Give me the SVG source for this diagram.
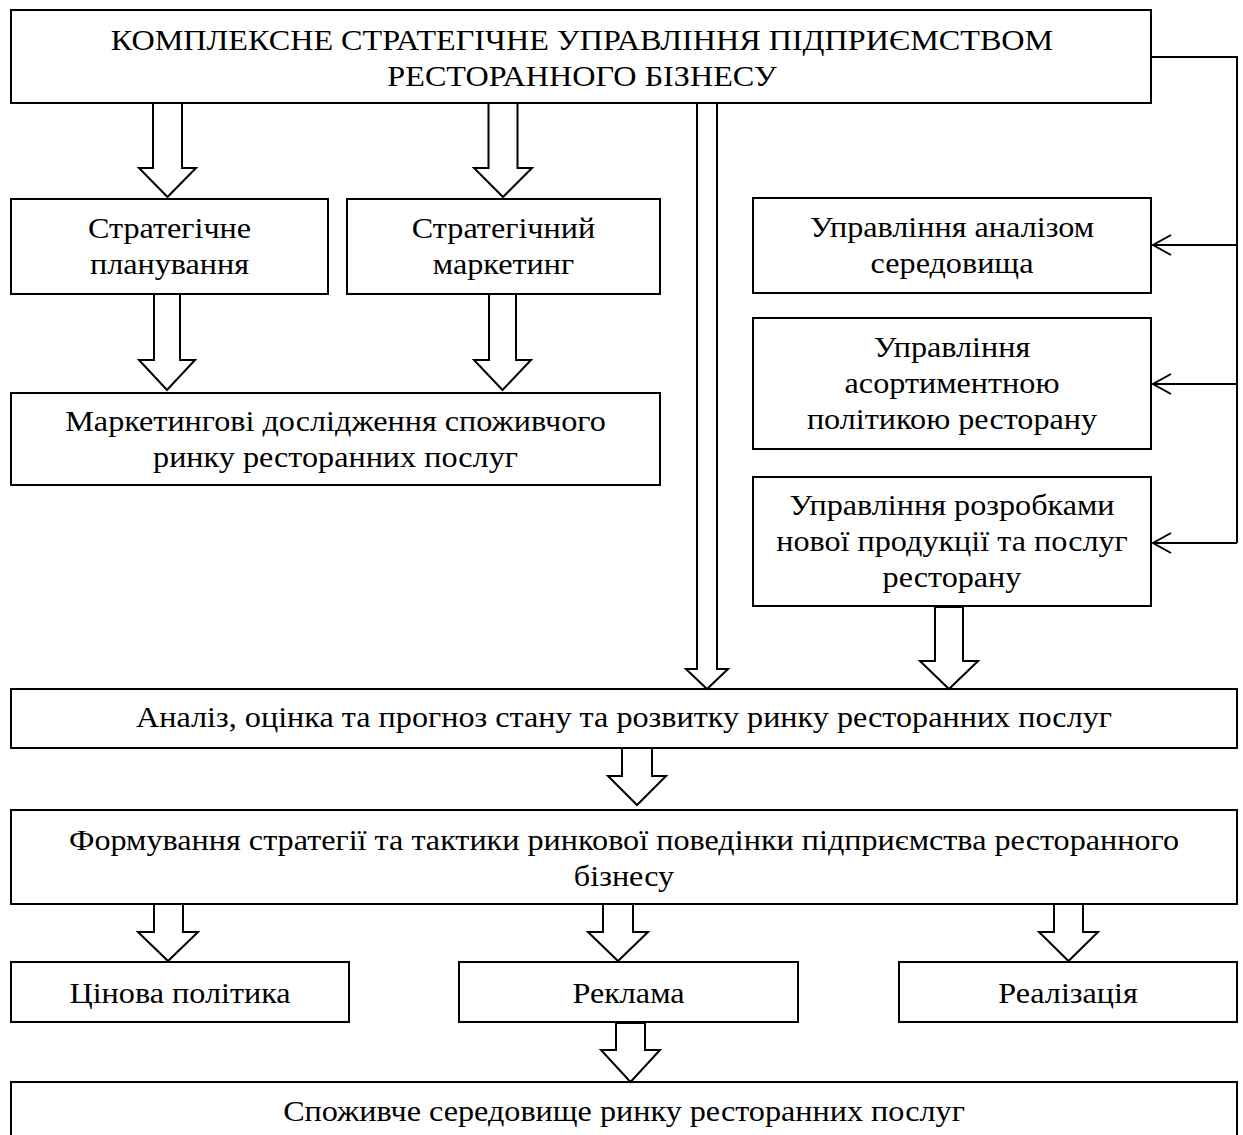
<svg xmlns="http://www.w3.org/2000/svg" width="1243" height="1135" viewBox="0 0 1243 1135">
<style>
.box{fill:#fff;stroke:#000;stroke-width:2}
.t{font-family:"Liberation Serif","Times New Roman",serif;font-size:29px;fill:#000;text-anchor:middle}
.arr{fill:#fff;stroke:#000;stroke-width:2;stroke-linejoin:miter}
.ln{fill:none;stroke:#000;stroke-width:2}
</style>
<defs>
<marker id="open" markerWidth="22" markerHeight="24" refX="19" refY="11" orient="auto" markerUnits="userSpaceOnUse">
<polyline points="1,1 19,11 1,21" fill="none" stroke="#000" stroke-width="2"/>
</marker>
</defs>
<rect width="1243" height="1135" fill="#fff"/>

<g id="n-top">
<rect class="box" x="11" y="10" width="1140" height="93"/>
<text class="t" transform="translate(582,50) scale(1.11,1)">КОМПЛЕКСНЕ СТРАТЕГІЧНЕ УПРАВЛІННЯ ПІДПРИЄМСТВОМ</text>
<text class="t" transform="translate(582,86) scale(1.11,1)">РЕСТОРАННОГО БІЗНЕСУ</text>
</g>

<g id="n-plan">
<rect class="box" x="11" y="199" width="317" height="95"/>
<text class="t" transform="translate(169.5,238) scale(1.11,1)">Стратегічне</text>
<text class="t" transform="translate(169.5,274) scale(1.11,1)">планування</text>
</g>

<g id="n-mark">
<rect class="box" x="347" y="199" width="313" height="95"/>
<text class="t" transform="translate(503.5,238) scale(1.11,1)">Стратегічний</text>
<text class="t" transform="translate(503.5,274) scale(1.11,1)">маркетинг</text>
</g>

<g id="n-env">
<rect class="box" x="753" y="198" width="398" height="95"/>
<text class="t" transform="translate(952,237) scale(1.11,1)">Управління аналізом</text>
<text class="t" transform="translate(952,273) scale(1.11,1)">середовища</text>
</g>

<g id="n-research">
<rect class="box" x="11" y="393" width="649" height="92"/>
<text class="t" transform="translate(335.5,431) scale(1.11,1)">Маркетингові дослідження споживчого</text>
<text class="t" transform="translate(335.5,467) scale(1.11,1)">ринку ресторанних послуг</text>
</g>

<g id="n-assort">
<rect class="box" x="753" y="318" width="398" height="131"/>
<text class="t" transform="translate(952,357) scale(1.11,1)">Управління</text>
<text class="t" transform="translate(952,393) scale(1.11,1)">асортиментною</text>
<text class="t" transform="translate(952,429) scale(1.11,1)">політикою ресторану</text>
</g>

<g id="n-dev">
<rect class="box" x="753" y="477" width="398" height="129"/>
<text class="t" transform="translate(952,515) scale(1.11,1)">Управління розробками</text>
<text class="t" transform="translate(952,551) scale(1.11,1)">нової продукції та послуг</text>
<text class="t" transform="translate(952,587) scale(1.11,1)">ресторану</text>
</g>

<g id="n-analysis">
<rect class="box" x="11" y="689" width="1226" height="59"/>
<text class="t" transform="translate(624,727) scale(1.11,1)">Аналіз, оцінка та прогноз стану та розвитку ринку ресторанних послуг</text>
</g>

<g id="n-strategy">
<rect class="box" x="11" y="810" width="1226" height="94"/>
<text class="t" transform="translate(624,850) scale(1.11,1)">Формування стратегії та тактики ринкової поведінки підприємства ресторанного</text>
<text class="t" transform="translate(624,886) scale(1.11,1)">бізнесу</text>
</g>

<g id="n-price">
<rect class="box" x="11" y="962" width="338" height="60"/>
<text class="t" transform="translate(180,1003) scale(1.11,1)">Цінова політика</text>
</g>

<g id="n-ads">
<rect class="box" x="459" y="962" width="339" height="60"/>
<text class="t" transform="translate(628.5,1003) scale(1.11,1)">Реклама</text>
</g>

<g id="n-sales">
<rect class="box" x="899" y="962" width="338" height="60"/>
<text class="t" transform="translate(1068,1003) scale(1.11,1)">Реалізація</text>
</g>

<g id="n-consumer">
<rect class="box" x="11" y="1082" width="1226" height="70"/>
<text class="t" transform="translate(624,1121) scale(1.11,1)">Споживче середовище ринку ресторанних послуг</text>
</g>

<g id="connectors">
<polygon class="arr" points="153,103 182,103 182,168 196,168 167.5,197 139,168 153,168"/>
<polygon class="arr" points="488.5,103 517.5,103 517.5,168 532,168 503,197 474,168 488.5,168"/>
<polygon class="arr" points="154,294 180,294 180,360 195,360 167,390 139,360 154,360"/>
<polygon class="arr" points="489,294 516,294 516,360 531,360 502.5,390 474,360 489,360"/>
<polygon class="arr" points="697,103 717,103 717,669 728,669 707,689 686,669 697,669"/>
<polygon class="arr" points="935,607 963,607 963,661 978,661 949,689 920,661 935,661"/>
<polygon class="arr" points="622,748 652,748 652,776 666,776 637,805 608,776 622,776"/>
<polygon class="arr" points="154,904 183,904 183,932 198,932 168,961 138,932 154,932"/>
<polygon class="arr" points="603,904 633,904 633,932 648,932 618,961 588,932 603,932"/>
<polygon class="arr" points="1054,904 1083,904 1083,932 1098,932 1068.5,961 1039,932 1054,932"/>
<polygon class="arr" points="616,1023 645,1023 645,1050 660,1050 630.5,1082 601,1050 616,1050"/>
<polyline class="ln" points="1152,57 1237,57 1237,543"/>
<line class="ln" x1="1237" y1="245" x2="1153" y2="245" marker-end="url(#open)"/>
<line class="ln" x1="1237" y1="384" x2="1153" y2="384" marker-end="url(#open)"/>
<line class="ln" x1="1237" y1="543" x2="1153" y2="543" marker-end="url(#open)"/>
</g>
</svg>
